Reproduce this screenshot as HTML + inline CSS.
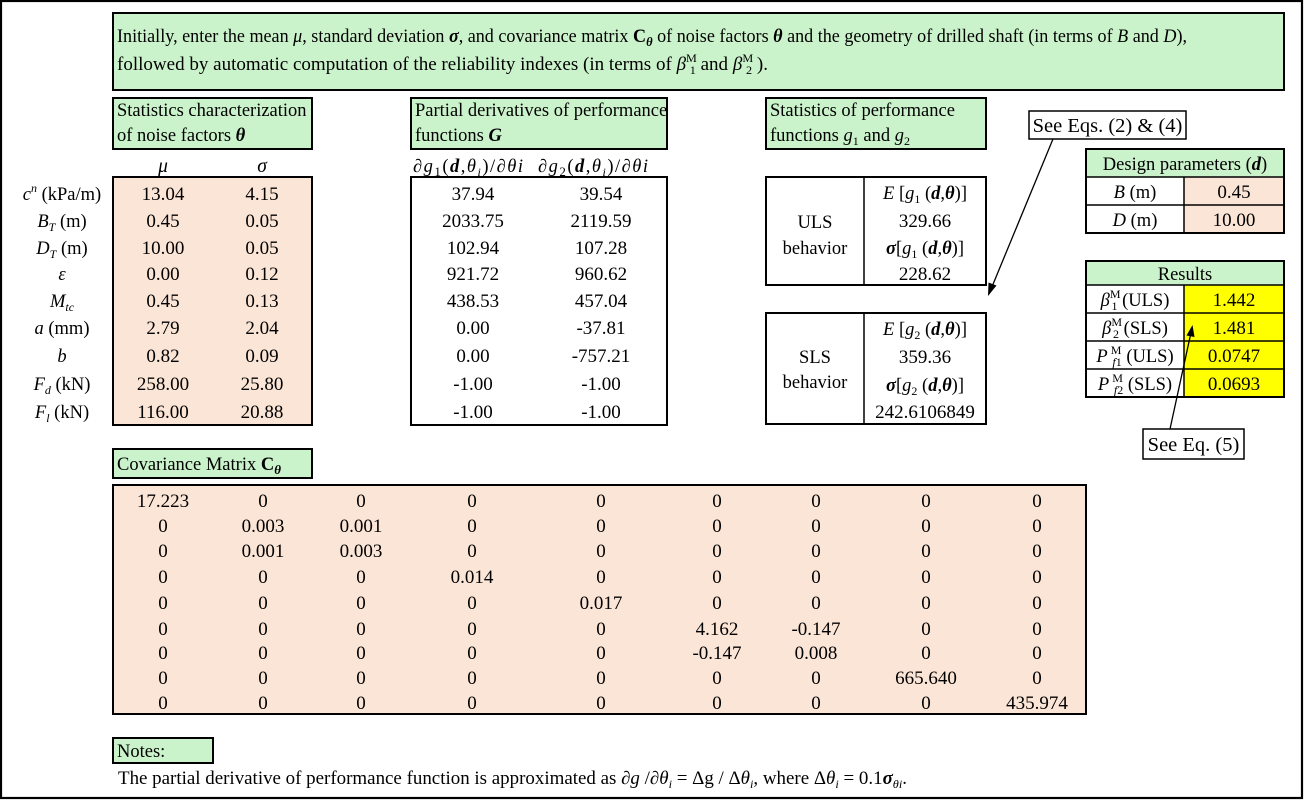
<!DOCTYPE html>
<html><head><meta charset="utf-8"><style>
html,body{margin:0;padding:0;background:#fff;}
svg{display:block;font-family:"Liberation Serif","DejaVu Serif",serif;}
</style></head><body>
<svg width="1305" height="800" viewBox="0 0 1305 800" xmlns="http://www.w3.org/2000/svg" font-size="18.5" fill="#000">
<rect x="0" y="0" width="1305" height="800" fill="#fff"/>
<rect x="1" y="1" width="1301" height="797" fill="none" stroke="#000" stroke-width="2.2"/>

<!-- Banner -->
<rect x="113" y="13" width="1171" height="77" fill="#cbf3cb" stroke="#000" stroke-width="2"/>
<text x="117" y="42" font-size="18.75" textLength="1070" lengthAdjust="spacingAndGlyphs">Initially, enter the mean <tspan font-style="italic">μ</tspan>, standard deviation <tspan font-style="italic" font-weight="bold">σ</tspan>, and covariance matrix <tspan font-weight="bold">C</tspan><tspan font-weight="bold" font-style="italic" font-size="13" dy="4">θ</tspan><tspan dy="-4"> of noise factors </tspan><tspan font-weight="bold" font-style="italic">θ</tspan> and the geometry of drilled shaft (in terms of <tspan font-style="italic">B</tspan> and <tspan font-style="italic">D</tspan>),</text>
<text x="117" y="70" font-size="18.75" textLength="651" lengthAdjust="spacingAndGlyphs">followed by automatic computation of the reliability indexes (in terms of  <tspan font-style="italic">β</tspan><tspan font-size="12" dy="-8">M</tspan><tspan font-size="12" dx="-7" dy="12">1</tspan><tspan dy="-4"> and </tspan><tspan font-style="italic">β</tspan><tspan font-size="12" dy="-8">M</tspan><tspan font-size="12" dx="-7" dy="12">2</tspan><tspan dy="-4"> ).</tspan></text>

<!-- Header boxes -->
<rect x="113" y="98" width="199" height="51" fill="#cbf3cb" stroke="#000" stroke-width="2"/>
<text x="117" y="116">Statistics characterization</text>
<text x="117" y="141">of noise factors <tspan font-weight="bold" font-style="italic">θ</tspan></text>

<rect x="411" y="98" width="256" height="51" fill="#cbf3cb" stroke="#000" stroke-width="2"/>
<text x="415" y="116">Partial derivatives of performance</text>
<text x="415" y="141">functions <tspan font-weight="bold" font-style="italic">G</tspan></text>

<rect x="766" y="98" width="220" height="51" fill="#cbf3cb" stroke="#000" stroke-width="2"/>
<text x="770" y="116">Statistics of performance</text>
<text x="770" y="141">functions <tspan font-style="italic">g</tspan><tspan font-size="12" dy="4">1</tspan><tspan dy="-4"> and </tspan><tspan font-style="italic">g</tspan><tspan font-size="12" dy="4">2</tspan></text>

<!-- See Eqs box -->
<rect x="1029" y="111" width="157" height="28" fill="#fff" stroke="#000" stroke-width="1.5"/>
<text x="1107.5" y="132" font-size="20.5" text-anchor="middle">See Eqs. (2) &amp; (4)</text>

<!-- mu sigma headers -->
<text x="163" y="172" text-anchor="middle" font-style="italic" font-size="19.5">μ</text>
<text x="262" y="172" text-anchor="middle" font-style="italic" font-size="19.5">σ</text>

<!-- derivative headers -->
<text x="413" y="172" textLength="110" lengthAdjust="spacing">∂<tspan font-style="italic">g</tspan><tspan font-size="13" dy="4">1</tspan><tspan dy="-4">(</tspan><tspan font-weight="bold" font-style="italic">d</tspan>,<tspan font-style="italic">θ</tspan><tspan font-style="italic" font-size="12" dy="4">i</tspan><tspan dy="-4">)/∂</tspan><tspan font-style="italic">θi</tspan></text>
<text x="538" y="172" textLength="110" lengthAdjust="spacing">∂<tspan font-style="italic">g</tspan><tspan font-size="13" dy="4">2</tspan><tspan dy="-4">(</tspan><tspan font-weight="bold" font-style="italic">d</tspan>,<tspan font-style="italic">θ</tspan><tspan font-style="italic" font-size="12" dy="4">i</tspan><tspan dy="-4">)/∂</tspan><tspan font-style="italic">θi</tspan></text>

<!-- Left table -->
<rect x="113" y="177" width="199" height="248" fill="#fbe5d6" stroke="#000" stroke-width="2"/>
<g text-anchor="middle">
<text x="62" y="200"><tspan font-style="italic">c</tspan><tspan font-style="italic" font-size="12" dy="-8">n</tspan><tspan dy="8"> (kPa/m)</tspan></text>
<text x="62" y="227"><tspan font-style="italic">B</tspan><tspan font-style="italic" font-size="12" dy="4">T</tspan><tspan dy="-4"> (m)</tspan></text>
<text x="62" y="254"><tspan font-style="italic">D</tspan><tspan font-style="italic" font-size="12" dy="4">T</tspan><tspan dy="-4"> (m)</tspan></text>
<text x="62" y="280" font-style="italic">ε</text>
<text x="62" y="307"><tspan font-style="italic">M</tspan><tspan font-style="italic" font-size="12" dy="4">tc</tspan></text>
<text x="62" y="334"><tspan font-style="italic">a</tspan> (mm)</text>
<text x="62" y="362" font-style="italic">b</text>
<text x="62" y="390"><tspan font-style="italic">F</tspan><tspan font-style="italic" font-size="12" dy="4">d</tspan><tspan dy="-4"> (kN)</tspan></text>
<text x="62" y="418"><tspan font-style="italic">F</tspan><tspan font-style="italic" font-size="12" dy="4">l</tspan><tspan dy="-4"> (kN)</tspan></text>
</g>
<g text-anchor="middle" font-size="19">
<text x="163" y="200">13.04</text><text x="262" y="200">4.15</text>
<text x="163" y="227">0.45</text><text x="262" y="227">0.05</text>
<text x="163" y="254">10.00</text><text x="262" y="254">0.05</text>
<text x="163" y="280">0.00</text><text x="262" y="280">0.12</text>
<text x="163" y="307">0.45</text><text x="262" y="307">0.13</text>
<text x="163" y="334">2.79</text><text x="262" y="334">2.04</text>
<text x="163" y="362">0.82</text><text x="262" y="362">0.09</text>
<text x="163" y="390">258.00</text><text x="262" y="390">25.80</text>
<text x="163" y="418">116.00</text><text x="262" y="418">20.88</text>
</g>

<!-- Derivative table -->
<rect x="411" y="177" width="256" height="248" fill="#fff" stroke="#000" stroke-width="2"/>
<g text-anchor="middle" font-size="19">
<text x="473" y="200">37.94</text><text x="601" y="200">39.54</text>
<text x="473" y="227">2033.75</text><text x="601" y="227">2119.59</text>
<text x="473" y="254">102.94</text><text x="601" y="254">107.28</text>
<text x="473" y="280">921.72</text><text x="601" y="280">960.62</text>
<text x="473" y="307">438.53</text><text x="601" y="307">457.04</text>
<text x="473" y="334">0.00</text><text x="601" y="334">-37.81</text>
<text x="473" y="362">0.00</text><text x="601" y="362">-757.21</text>
<text x="473" y="390">-1.00</text><text x="601" y="390">-1.00</text>
<text x="473" y="418">-1.00</text><text x="601" y="418">-1.00</text>
</g>

<!-- ULS box -->
<rect x="766" y="177" width="220" height="108" fill="#fff" stroke="#000" stroke-width="2"/>
<line x1="864" y1="177" x2="864" y2="285" stroke="#000" stroke-width="1.5"/>
<g text-anchor="middle">
<text x="815" y="228">ULS</text>
<text x="815" y="254">behavior</text>
<text x="925" y="199"><tspan font-style="italic">E</tspan> [<tspan font-style="italic">g</tspan><tspan font-size="12" dy="4">1</tspan><tspan dy="-4"> (</tspan><tspan font-weight="bold" font-style="italic">d</tspan>,<tspan font-weight="bold" font-style="italic">θ</tspan>)]</text>
<text x="925" y="227" font-size="19">329.66</text>
<text x="925" y="254"><tspan font-weight="bold" font-style="italic">σ</tspan>[<tspan font-style="italic">g</tspan><tspan font-size="12" dy="4">1</tspan><tspan dy="-4"> (</tspan><tspan font-weight="bold" font-style="italic">d</tspan>,<tspan font-weight="bold" font-style="italic">θ</tspan>)]</text>
<text x="925" y="280" font-size="19">228.62</text>
</g>

<!-- SLS box -->
<rect x="766" y="313" width="220" height="111" fill="#fff" stroke="#000" stroke-width="2"/>
<line x1="864" y1="313" x2="864" y2="424" stroke="#000" stroke-width="1.5"/>
<g text-anchor="middle">
<text x="815" y="363">SLS</text>
<text x="815" y="388">behavior</text>
<text x="925" y="335"><tspan font-style="italic">E</tspan> [<tspan font-style="italic">g</tspan><tspan font-size="12" dy="4">2</tspan><tspan dy="-4"> (</tspan><tspan font-weight="bold" font-style="italic">d</tspan>,<tspan font-weight="bold" font-style="italic">θ</tspan>)]</text>
<text x="925" y="363" font-size="19">359.36</text>
<text x="925" y="391"><tspan font-weight="bold" font-style="italic">σ</tspan>[<tspan font-style="italic">g</tspan><tspan font-size="12" dy="4">2</tspan><tspan dy="-4"> (</tspan><tspan font-weight="bold" font-style="italic">d</tspan>,<tspan font-weight="bold" font-style="italic">θ</tspan>)]</text>
<text x="925" y="418" font-size="19">242.6106849</text>
</g>

<!-- Design parameters -->
<rect x="1086" y="149" width="198" height="28" fill="#cbf3cb"/>
<rect x="1086" y="177" width="98" height="56" fill="#fff"/>
<rect x="1184" y="177" width="100" height="56" fill="#fbe5d6"/>
<g stroke="#000" stroke-width="1.5" fill="none">
<rect x="1086" y="149" width="198" height="84" stroke-width="2"/>
<line x1="1086" y1="177" x2="1284" y2="177"/>
<line x1="1086" y1="205" x2="1284" y2="205"/>
<line x1="1184" y1="177" x2="1184" y2="233"/>
</g>
<g text-anchor="middle">
<text x="1185" y="170">Design parameters (<tspan font-weight="bold" font-style="italic">d</tspan>)</text>
<text x="1135" y="198"><tspan font-style="italic">B</tspan>  (m)</text>
<text x="1234" y="198" font-size="19">0.45</text>
<text x="1135" y="226"><tspan font-style="italic">D</tspan>  (m)</text>
<text x="1234" y="226" font-size="19">10.00</text>
</g>

<!-- Results -->
<rect x="1086" y="261" width="198" height="24" fill="#cbf3cb"/>
<rect x="1086" y="285" width="98" height="112" fill="#fff"/>
<rect x="1184" y="285" width="100" height="112" fill="#ffff00"/>
<g stroke="#000" stroke-width="1.5" fill="none">
<rect x="1086" y="261" width="198" height="136" stroke-width="2"/>
<line x1="1086" y1="285" x2="1284" y2="285"/>
<line x1="1086" y1="313" x2="1284" y2="313"/>
<line x1="1086" y1="341" x2="1284" y2="341"/>
<line x1="1086" y1="369" x2="1284" y2="369"/>
<line x1="1184" y1="285" x2="1184" y2="397"/>
</g>
<g text-anchor="middle">
<text x="1185" y="280">Results</text>
<text x="1135" y="306"><tspan font-style="italic">β</tspan><tspan font-size="12" dy="-8">M</tspan><tspan font-size="12" dx="-9" dy="12">1</tspan><tspan dy="-4"> (ULS)</tspan></text>
<text x="1234" y="306" font-size="19">1.442</text>
<text x="1135" y="334"><tspan font-style="italic">β</tspan><tspan font-size="12" dy="-8">M</tspan><tspan font-size="12" dx="-9" dy="12">2</tspan><tspan dy="-4"> (SLS)</tspan></text>
<text x="1234" y="334" font-size="19">1.481</text>
<text x="1135" y="362"><tspan font-style="italic">P</tspan><tspan font-size="12" dy="-8"> M</tspan><tspan font-size="12" dx="-9" dy="12"><tspan font-style="italic">f</tspan>1</tspan><tspan dy="-4"> (ULS)</tspan></text>
<text x="1234" y="362" font-size="19">0.0747</text>
<text x="1135" y="390"><tspan font-style="italic">P</tspan><tspan font-size="12" dy="-8"> M</tspan><tspan font-size="12" dx="-9" dy="12"><tspan font-style="italic">f</tspan>2</tspan><tspan dy="-4"> (SLS)</tspan></text>
<text x="1234" y="390" font-size="19">0.0693</text>
</g>

<!-- See Eq 5 -->
<rect x="1143" y="429" width="101" height="30" fill="#fff" stroke="#000" stroke-width="1.5"/>
<text x="1193.5" y="451" font-size="20.5" text-anchor="middle">See Eq. (5)</text>

<!-- Arrows -->
<line x1="1053" y1="139" x2="989" y2="294" stroke="#000" stroke-width="1.3"/>
<polygon points="988,296 996.5,285.5 988.5,282.5" fill="#000"/>
<line x1="1170" y1="429" x2="1192" y2="328" stroke="#000" stroke-width="1.3"/>
<polygon points="1192.5,325 1194.5,337 1186.5,335.5" fill="#000"/>

<!-- Covariance label -->
<rect x="113" y="449" width="199" height="29" fill="#cbf3cb" stroke="#000" stroke-width="2"/>
<text x="117" y="470">Covariance Matrix <tspan font-weight="bold">C</tspan><tspan font-weight="bold" font-style="italic" font-size="13" dy="4">θ</tspan></text>

<!-- Covariance matrix -->
<rect x="113" y="485" width="973" height="229" fill="#fbe5d6" stroke="#000" stroke-width="2"/>
<g text-anchor="middle" font-size="19">
<text x="163" y="507">17.223</text><text x="263" y="507">0</text><text x="361" y="507">0</text><text x="472" y="507">0</text><text x="601" y="507">0</text><text x="717" y="507">0</text><text x="816" y="507">0</text><text x="926" y="507">0</text><text x="1037" y="507">0</text>
<text x="163" y="532">0</text><text x="263" y="532">0.003</text><text x="361" y="532">0.001</text><text x="472" y="532">0</text><text x="601" y="532">0</text><text x="717" y="532">0</text><text x="816" y="532">0</text><text x="926" y="532">0</text><text x="1037" y="532">0</text>
<text x="163" y="557">0</text><text x="263" y="557">0.001</text><text x="361" y="557">0.003</text><text x="472" y="557">0</text><text x="601" y="557">0</text><text x="717" y="557">0</text><text x="816" y="557">0</text><text x="926" y="557">0</text><text x="1037" y="557">0</text>
<text x="163" y="583">0</text><text x="263" y="583">0</text><text x="361" y="583">0</text><text x="472" y="583">0.014</text><text x="601" y="583">0</text><text x="717" y="583">0</text><text x="816" y="583">0</text><text x="926" y="583">0</text><text x="1037" y="583">0</text>
<text x="163" y="609">0</text><text x="263" y="609">0</text><text x="361" y="609">0</text><text x="472" y="609">0</text><text x="601" y="609">0.017</text><text x="717" y="609">0</text><text x="816" y="609">0</text><text x="926" y="609">0</text><text x="1037" y="609">0</text>
<text x="163" y="635">0</text><text x="263" y="635">0</text><text x="361" y="635">0</text><text x="472" y="635">0</text><text x="601" y="635">0</text><text x="717" y="635">4.162</text><text x="816" y="635">-0.147</text><text x="926" y="635">0</text><text x="1037" y="635">0</text>
<text x="163" y="659">0</text><text x="263" y="659">0</text><text x="361" y="659">0</text><text x="472" y="659">0</text><text x="601" y="659">0</text><text x="717" y="659">-0.147</text><text x="816" y="659">0.008</text><text x="926" y="659">0</text><text x="1037" y="659">0</text>
<text x="163" y="684">0</text><text x="263" y="684">0</text><text x="361" y="684">0</text><text x="472" y="684">0</text><text x="601" y="684">0</text><text x="717" y="684">0</text><text x="816" y="684">0</text><text x="926" y="684">665.640</text><text x="1037" y="684">0</text>
<text x="163" y="709">0</text><text x="263" y="709">0</text><text x="361" y="709">0</text><text x="472" y="709">0</text><text x="601" y="709">0</text><text x="717" y="709">0</text><text x="816" y="709">0</text><text x="926" y="709">0</text><text x="1037" y="709">435.974</text>
</g>

<!-- Notes -->
<rect x="113" y="738" width="100" height="25" fill="#cbf3cb" stroke="#000" stroke-width="2"/>
<text x="117" y="757">Notes:</text>
<text x="118" y="784" textLength="789" lengthAdjust="spacingAndGlyphs">The partial derivative of performance function is approximated as ∂<tspan font-style="italic">g</tspan> /∂<tspan font-style="italic">θ</tspan><tspan font-style="italic" font-size="12" dy="4">i</tspan><tspan dy="-4"> = Δg / Δ</tspan><tspan font-style="italic">θ</tspan><tspan font-style="italic" font-size="12" dy="4">i</tspan><tspan dy="-4">, where  Δ</tspan><tspan font-style="italic">θ</tspan><tspan font-style="italic" font-size="12" dy="4">i</tspan><tspan dy="-4"> = 0.1</tspan><tspan font-weight="bold" font-style="italic">σ</tspan><tspan font-style="italic" font-size="12" dy="4">θi</tspan><tspan dy="-4">.</tspan></text>
</svg>
</body></html>
